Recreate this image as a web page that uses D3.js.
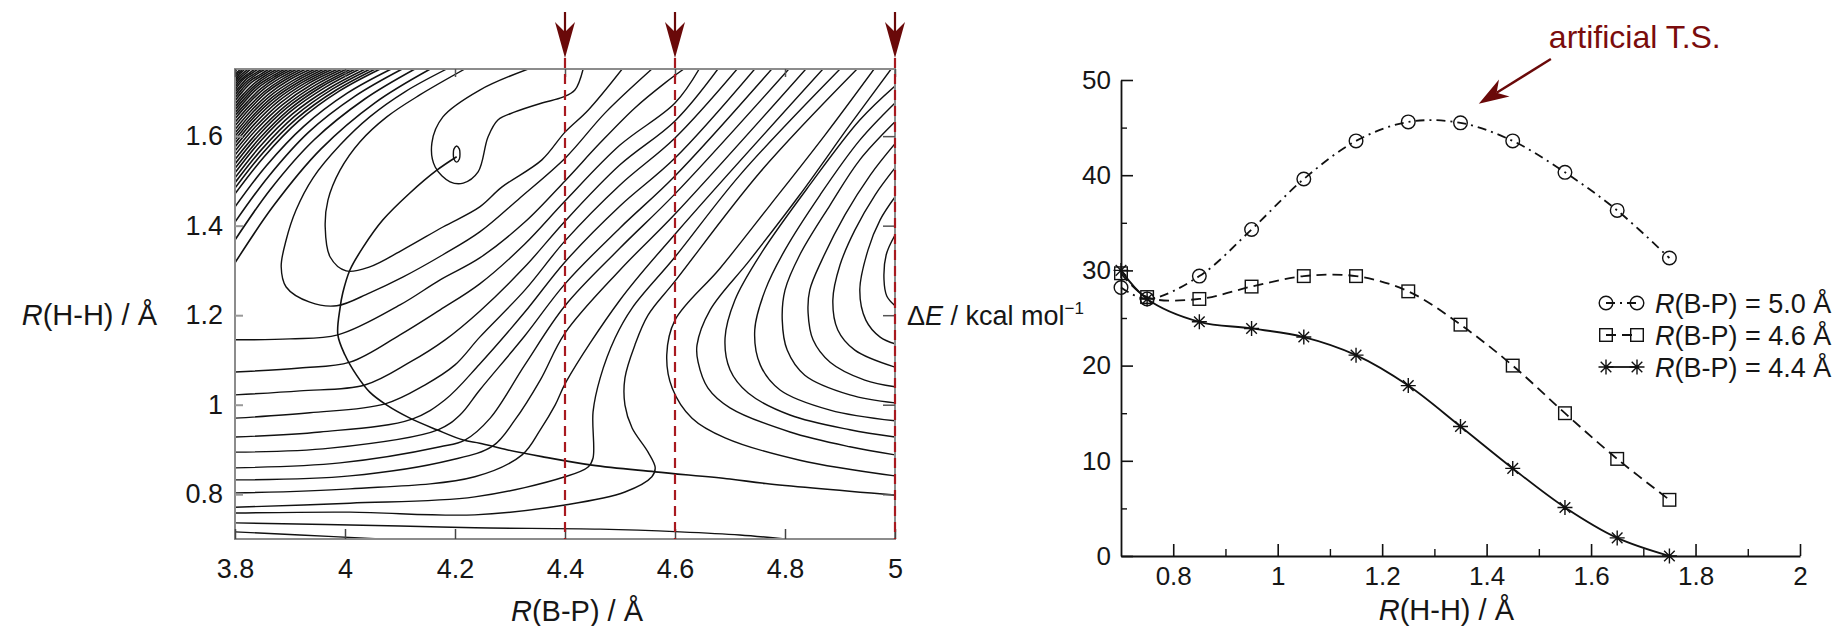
<!DOCTYPE html>
<html>
<head>
<meta charset="utf-8">
<script src="https://cdn.jsdelivr.net/npm/d3@7"></script>
<style>
  html, body { margin: 0; padding: 0; background: #fff; }
  svg { display: block; }
  text { font-family: "Liberation Sans", Arial, Helvetica, sans-serif; fill: #161616; }
</style>
</head>
<body>
<svg id="chart" width="1841" height="626"></svg>
<script>
// ---------------- potential energy surface (left panel) ----------------
const bpTicks = [3.8, 4.0, 4.2, 4.4, 4.6, 4.8, 5.0];
const hhTicks = [0.8, 1.0, 1.2, 1.4, 1.6];
const scanBP = [4.4, 4.6, 5.0];

// small closed contour around the minimum
const energyWell = [[4.203,1.578],[4.208,1.571],[4.209,1.56],[4.208,1.549],[4.203,1.542],[4.198,1.549],[4.197,1.56],[4.198,1.571]];

// repulsive wall in the upper-left corner
const cornerContours = [
  [[3.8,1.317],[3.871,1.446],[3.956,1.571],[4.055,1.675],[4.155,1.75]],
  [[3.8,1.368],[3.865,1.482],[3.944,1.592],[4.036,1.683],[4.127,1.75]],
  [[3.8,1.408],[3.861,1.51],[3.934,1.609],[4.019,1.69],[4.104,1.75]],
  [[3.8,1.442],[3.857,1.534],[3.925,1.622],[4.004,1.696],[4.084,1.75]],
  [[3.8,1.471],[3.853,1.554],[3.916,1.634],[3.99,1.701],[4.064,1.75]],
  [[3.8,1.484],[3.851,1.563],[3.912,1.639],[3.984,1.703],[4.055,1.75]],
  [[3.8,1.496],[3.849,1.571],[3.908,1.644],[3.977,1.705],[4.046,1.75]],
  [[3.8,1.507],[3.847,1.579],[3.904,1.649],[3.971,1.707],[4.037,1.75]],
  [[3.8,1.518],[3.845,1.587],[3.9,1.654],[3.964,1.709],[4.027,1.75]],
  [[3.8,1.528],[3.844,1.594],[3.897,1.658],[3.958,1.711],[4.019,1.75]],
  [[3.8,1.538],[3.842,1.601],[3.893,1.662],[3.952,1.712],[4.011,1.75]],
  [[3.8,1.548],[3.841,1.608],[3.89,1.666],[3.946,1.714],[4.003,1.75]],
  [[3.8,1.558],[3.839,1.615],[3.886,1.67],[3.94,1.716],[3.995,1.75]],
  [[3.8,1.567],[3.838,1.622],[3.882,1.674],[3.934,1.718],[3.987,1.75]],
  [[3.8,1.576],[3.836,1.628],[3.878,1.677],[3.928,1.719],[3.978,1.75]],
  [[3.8,1.584],[3.834,1.634],[3.875,1.681],[3.922,1.72],[3.97,1.75]],
  [[3.8,1.592],[3.832,1.639],[3.871,1.684],[3.916,1.721],[3.962,1.75]],
  [[3.8,1.6],[3.831,1.644],[3.868,1.687],[3.911,1.723],[3.954,1.75]],
  [[3.8,1.607],[3.829,1.649],[3.864,1.69],[3.905,1.724],[3.946,1.75]],
  [[3.8,1.615],[3.828,1.655],[3.861,1.694],[3.899,1.726],[3.938,1.75]],
  [[3.8,1.623],[3.826,1.66],[3.857,1.697],[3.893,1.727],[3.929,1.75]],
  [[3.8,1.631],[3.825,1.666],[3.854,1.7],[3.887,1.728],[3.921,1.75]],
  [[3.8,1.639],[3.823,1.671],[3.85,1.703],[3.881,1.729],[3.913,1.75]],
  [[3.8,1.646],[3.822,1.676],[3.847,1.706],[3.876,1.731],[3.906,1.75]],
  [[3.8,1.652],[3.82,1.681],[3.843,1.709],[3.871,1.732],[3.898,1.75]],
  [[3.8,1.659],[3.819,1.686],[3.84,1.712],[3.866,1.733],[3.891,1.75]],
  [[3.8,1.665],[3.817,1.69],[3.837,1.714],[3.86,1.734],[3.884,1.75]],
  [[3.8,1.672],[3.816,1.695],[3.834,1.717],[3.855,1.735],[3.877,1.75]],
  [[3.8,1.679],[3.814,1.7],[3.83,1.72],[3.85,1.736],[3.869,1.75]],
  [[3.8,1.686],[3.813,1.705],[3.827,1.723],[3.845,1.737],[3.862,1.75]],
  [[3.8,1.692],[3.811,1.709],[3.824,1.725],[3.839,1.738],[3.855,1.75]],
  [[3.8,1.698],[3.81,1.713],[3.821,1.728],[3.835,1.739],[3.849,1.75]],
  [[3.8,1.703],[3.808,1.717],[3.818,1.73],[3.83,1.74],[3.842,1.75]],
  [[3.8,1.709],[3.807,1.721],[3.816,1.732],[3.826,1.741],[3.836,1.75]],
  [[3.8,1.715],[3.806,1.725],[3.813,1.734],[3.821,1.742],[3.829,1.75]],
  [[3.8,1.721],[3.805,1.729],[3.811,1.737],[3.817,1.743],[3.824,1.75]],
  [[3.8,1.726],[3.804,1.732],[3.808,1.739],[3.813,1.744],[3.818,1.75]],
  [[3.8,1.731],[3.803,1.736],[3.806,1.741],[3.81,1.745],[3.814,1.75]],
  [[3.8,1.735],[3.802,1.739],[3.804,1.743],[3.807,1.746],[3.809,1.75]],
  [[3.8,1.742],[3.801,1.745],[3.802,1.747],[3.803,1.75]]
];

// loops around the H2-bound basin
const valleyContours = [
  [[4.333,1.75],[4.245,1.703],[4.178,1.643],[4.158,1.585],[4.164,1.531],[4.191,1.498],[4.215,1.495],[4.242,1.52],[4.26,1.598],[4.278,1.636],[4.309,1.654],[4.358,1.674],[4.396,1.687],[4.418,1.703],[4.433,1.75]],
  [[4.218,1.75],[4.136,1.692],[4.076,1.643],[4.027,1.587],[3.991,1.524],[3.969,1.457],[3.964,1.397],[3.973,1.33],[4.002,1.299],[4.045,1.308],[4.105,1.346],[4.178,1.397],[4.245,1.442],[4.285,1.486],[4.358,1.547],[4.4,1.609],[4.442,1.658],[4.504,1.75]],
  [[4.185,1.75],[4.109,1.699],[4.045,1.643],[3.991,1.58],[3.942,1.507],[3.911,1.435],[3.893,1.368],[3.884,1.308],[3.893,1.263],[3.936,1.229],[3.985,1.221],[4.045,1.25],[4.105,1.285],[4.178,1.335],[4.245,1.386],[4.318,1.462],[4.402,1.553],[4.473,1.652],[4.558,1.75]]
];

// contours running from the left edge across the path up to the top edge
const slopeContours = [
  [[3.8,1.145],[3.9,1.147],[3.987,1.156],[4.1,1.223],[4.173,1.279],[4.245,1.328],[4.327,1.408],[4.4,1.5],[4.464,1.585],[4.527,1.663],[4.582,1.719],[4.616,1.75]],
  [[3.8,1.073],[3.918,1.082],[4.009,1.095],[4.1,1.156],[4.173,1.212],[4.245,1.27],[4.327,1.359],[4.4,1.455],[4.5,1.58],[4.6,1.674],[4.644,1.75]],
  [[3.8,1.022],[3.918,1.031],[4.036,1.044],[4.118,1.095],[4.182,1.145],[4.245,1.209],[4.327,1.308],[4.4,1.41],[4.5,1.536],[4.6,1.634],[4.678,1.75]],
  [[3.8,0.97],[3.936,0.982],[4.073,1.002],[4.145,1.044],[4.2,1.089],[4.245,1.151],[4.327,1.256],[4.4,1.366],[4.5,1.491],[4.6,1.596],[4.713,1.75]],
  [[3.8,0.928],[3.955,0.939],[4.122,0.968],[4.182,1.011],[4.245,1.091],[4.327,1.207],[4.4,1.319],[4.5,1.444],[4.6,1.551],[4.745,1.75]],
  [[3.8,0.894],[3.973,0.903],[4.169,0.944],[4.209,0.977],[4.245,1.033],[4.327,1.154],[4.4,1.27],[4.5,1.395],[4.6,1.511],[4.776,1.75]],
  [[3.8,0.859],[3.991,0.87],[4.173,0.906],[4.218,0.921],[4.264,0.97],[4.327,1.089],[4.4,1.221],[4.5,1.35],[4.6,1.471],[4.807,1.75]],
  [[3.8,0.832],[4.009,0.841],[4.191,0.876],[4.269,0.908],[4.309,0.966],[4.355,1.055],[4.4,1.16],[4.5,1.301],[4.6,1.426],[4.838,1.75]],
  [[3.8,0.803],[4.009,0.812],[4.236,0.839],[4.322,0.888],[4.355,0.944],[4.382,0.999],[4.402,1.051],[4.5,1.234],[4.6,1.381],[4.869,1.75]],
  [[3.8,0.771],[4.009,0.78],[4.236,0.794],[4.4,0.839],[4.442,0.861],[4.451,0.881],[4.451,0.984],[4.464,1.06],[4.491,1.149],[4.522,1.216],[4.6,1.33],[4.718,1.513],[4.9,1.75]],
  [[3.8,0.758],[4.009,0.76],[4.236,0.754],[4.4,0.776],[4.509,0.805],[4.558,0.839],[4.564,0.859],[4.551,0.894],[4.522,0.948],[4.509,0.999],[4.509,1.06],[4.527,1.133],[4.551,1.2],[4.6,1.276],[4.755,1.52],[4.931,1.75]]
];

// nearly flat contours along the bottom edge
const floorContours = [
  [[3.8,0.736],[4.1,0.729],[4.236,0.725],[4.464,0.722],[4.609,0.716],[4.718,0.709],[4.8,0.7]],
  [[3.8,0.716],[3.918,0.709],[4.064,0.7]]
];

// C-shaped contours around the hill on the right edge
const ridgeContours = [
  [[4.962,1.75],[4.873,1.603],[4.773,1.446],[4.682,1.305],[4.6,1.189],[4.585,1.111],[4.595,1.037],[4.631,0.97],[4.691,0.926],[4.827,0.876],[5.0,0.841]],
  [[4.993,1.75],[4.918,1.625],[4.827,1.469],[4.736,1.323],[4.664,1.212],[4.64,1.133],[4.642,1.095],[4.66,1.037],[4.7,0.993],[4.809,0.939],[4.918,0.906],[5.0,0.888]],
  [[5.0,1.712],[4.936,1.636],[4.845,1.491],[4.755,1.335],[4.709,1.234],[4.691,1.149],[4.7,1.078],[4.733,1.026],[4.809,0.977],[4.918,0.944],[5.0,0.928]],
  [[5.0,1.674],[4.936,1.591],[4.864,1.469],[4.8,1.346],[4.764,1.256],[4.745,1.167],[4.755,1.089],[4.791,1.033],[4.882,0.988],[5.0,0.964]],
  [[5.0,1.632],[4.936,1.547],[4.882,1.446],[4.827,1.335],[4.8,1.256],[4.795,1.189],[4.804,1.122],[4.836,1.066],[4.918,1.022],[5.0,1.004]],
  [[5.0,1.583],[4.955,1.513],[4.909,1.424],[4.867,1.323],[4.845,1.256],[4.842,1.205],[4.851,1.145],[4.882,1.095],[4.945,1.055],[5.0,1.04]],
  [[5.0,1.529],[4.964,1.469],[4.927,1.39],[4.9,1.312],[4.887,1.234],[4.896,1.167],[4.927,1.122],[5.0,1.084]],
  [[5.0,1.464],[4.973,1.413],[4.951,1.346],[4.936,1.256],[4.947,1.189],[4.973,1.151],[5.0,1.136]],
  [[5.0,1.379],[4.984,1.335],[4.98,1.279],[4.985,1.243],[5.0,1.221]]
];

// minimum energy path
const reactionPath = [[4.203,1.554],[4.167,1.524],[4.118,1.473],[4.069,1.413],[4.033,1.352],[4.009,1.301],[3.996,1.25],[3.991,1.216],[3.987,1.156],[4.0,1.111],[4.021,1.066],[4.045,1.028],[4.076,0.999],[4.118,0.97],[4.167,0.944],[4.215,0.921],[4.245,0.914],[4.296,0.899],[4.358,0.884],[4.449,0.865],[4.564,0.85],[4.7,0.834],[4.765,0.824],[5.0,0.798]];

// ---------------- energy profiles (right panel) ----------------
const rHH = [0.7, 0.75, 0.85, 0.95, 1.05, 1.15, 1.25, 1.35, 1.45, 1.55, 1.65, 1.75];
const dE50 = [28.2, 27.0, 29.4, 34.3, 39.6, 43.6, 45.6, 45.5, 43.6, 40.3, 36.3, 31.3];
const dE46 = [29.7, 27.2, 27.0, 28.3, 29.4, 29.4, 27.8, 24.3, 20.0, 15.0, 10.2, 5.9];
const dE44 = [30.0, 27.0, 24.6, 23.9, 23.0, 21.1, 17.9, 13.6, 9.2, 5.1, 1.9, 0.0];
const eTicks = [0, 10, 20, 30, 40, 50];
const eMinor = [5, 15, 25, 35, 45];
const rTicks = [0.8, 1.0, 1.2, 1.4, 1.6, 1.8, 2.0];
const rMinor = [0.9, 1.1, 1.3, 1.5, 1.7, 1.9];
const seriesNames = ["5.0", "4.6", "4.4"];
const tsArrow = { tail: [1.523, 52.2], tip: [1.385, 47.5] };

// ---------------- drawing ----------------
const svg = d3.select("#chart");
const FONT = '"Liberation Sans", Arial, Helvetica, sans-serif';

const x = d3.scaleLinear().domain([3.8, 5.0]).range([235, 895]);
const y = d3.scaleLinear().domain([0.7, 1.75]).range([539, 69]);

svg.append("clipPath").attr("id", "pes-clip")
  .append("rect")
  .attr("x", x(3.8)).attr("y", y(1.75))
  .attr("width", x(5.0) - x(3.8)).attr("height", y(0.7) - y(1.75));

const pes = svg.append("g");
const contour = d3.line().x(d => x(d[0])).y(d => y(d[1])).curve(d3.curveCatmullRom.alpha(0.5));
const contourClosed = d3.line().x(d => x(d[0])).y(d => y(d[1])).curve(d3.curveCatmullRomClosed.alpha(0.5));

const cg = pes.append("g").attr("clip-path", "url(#pes-clip)")
  .attr("fill", "none").attr("stroke", "#111").attr("stroke-width", 1.4).attr("stroke-linejoin", "round");

cg.selectAll("path.corner").data(cornerContours).join("path").attr("class", "corner")
  .attr("d", contour).attr("stroke-width", 1.6);
cg.selectAll("path.valley").data(valleyContours).join("path").attr("class", "valley").attr("d", contour);
cg.selectAll("path.slope").data(slopeContours).join("path").attr("class", "slope").attr("d", contour);
cg.selectAll("path.floor").data(floorContours).join("path").attr("class", "floor").attr("d", contour);
cg.selectAll("path.ridge").data(ridgeContours).join("path").attr("class", "ridge").attr("d", contour);
cg.append("path").attr("d", contourClosed(energyWell));
cg.append("path").attr("d", contour(reactionPath)).attr("stroke-width", 1.6);

// frame and inward ticks
const frameColor = "#8c8c8c";
pes.append("rect")
  .attr("x", x(3.8)).attr("y", y(1.75))
  .attr("width", x(5.0) - x(3.8)).attr("height", y(0.7) - y(1.75))
  .attr("fill", "none").attr("stroke", frameColor).attr("stroke-width", 2);

function styleAxis(g, size) {
  g.attr("font-family", FONT).attr("font-size", size);
  g.select(".domain").remove();
  g.selectAll("text").attr("fill", "#1a1a1a");
}

pes.append("g").attr("transform", `translate(0,${y(0.7)})`)
  .call(d3.axisBottom(x).tickValues(bpTicks).tickSize(-10).tickPadding(20).tickFormat(d => String(d)))
  .call(g => { styleAxis(g, 27); g.selectAll("line").attr("stroke", "#444").attr("stroke-width", 1.5); });

pes.append("g").attr("transform", `translate(0,${y(1.75)})`)
  .call(d3.axisTop(x).tickValues(bpTicks).tickSize(-8).tickFormat(() => ""))
  .call(g => { styleAxis(g, 10); g.selectAll("line").attr("stroke", "#555").attr("stroke-width", 1.5); });

pes.append("g").attr("transform", `translate(${x(3.8)},0)`)
  .call(d3.axisLeft(y).tickValues(hhTicks).tickSize(-8).tickPadding(12).tickFormat(d => String(d)))
  .call(g => { styleAxis(g, 27); g.selectAll("line").attr("stroke", "#999").attr("stroke-width", 2); });

pes.append("g").attr("transform", `translate(${x(5.0)},0)`)
  .call(d3.axisRight(y).tickValues(hhTicks).tickSize(-12).tickFormat(() => ""))
  .call(g => { styleAxis(g, 10); g.selectAll("line").attr("stroke", "#555").attr("stroke-width", 1.5); });

// axis titles
const bpTitle = svg.append("text").attr("x", x(4.4) + 12).attr("y", 621)
  .attr("text-anchor", "middle").attr("font-size", 29);
bpTitle.append("tspan").attr("font-style", "italic").text("R");
bpTitle.append("tspan").text("(B-P) / Å");

const hhTitle = svg.append("text").attr("x", 157).attr("y", y(1.2) + 10)
  .attr("text-anchor", "end").attr("font-size", 29);
hhTitle.append("tspan").attr("font-style", "italic").text("R");
hhTitle.append("tspan").text("(H-H) / Å");

// scanned slices: dashed guides and arrows
const guideRed = "#a8191f";
const arrowRed = "#6a0909";
const scans = svg.append("g");
scans.selectAll("line.guide").data(scanBP).join("line").attr("class", "guide")
  .attr("x1", d => x(d)).attr("x2", d => x(d))
  .attr("y1", 58).attr("y2", y(0.7))
  .attr("stroke", guideRed).attr("stroke-width", 2.2).attr("stroke-dasharray", "10,6");
scans.selectAll("line.shaft").data(scanBP).join("line").attr("class", "shaft")
  .attr("x1", d => x(d)).attr("x2", d => x(d))
  .attr("y1", 12).attr("y2", 36)
  .attr("stroke", arrowRed).attr("stroke-width", 2.2);
scans.selectAll("path.head").data(scanBP).join("path").attr("class", "head")
  .attr("d", d => { const cx = x(d); return `M${cx},58 L${cx - 10},22 L${cx},32 L${cx + 10},22 Z`; })
  .attr("fill", arrowRed);

// ---------------- right panel ----------------
const xr = d3.scaleLinear().domain([0.7, 2.0]).range([1121, 1800]);
const yr = d3.scaleLinear().domain([0, 50]).range([556, 80]);
const prof = svg.append("g");

prof.append("g").attr("transform", `translate(0,${yr(0)})`)
  .call(d3.axisBottom(xr).tickValues(rTicks).tickSize(-12).tickSizeOuter(0).tickPadding(11).tickFormat(d => String(d)))
  .call(g => { g.attr("font-family", FONT).attr("font-size", 26);
    g.select(".domain").attr("stroke", "#111").attr("stroke-width", 1.8);
    g.selectAll("line").attr("stroke", "#111").attr("stroke-width", 1.6); });
prof.append("g").attr("transform", `translate(0,${yr(0)})`)
  .call(d3.axisBottom(xr).tickValues(rMinor).tickSize(-7).tickSizeOuter(0).tickFormat(() => ""))
  .call(g => { g.select(".domain").remove(); g.selectAll("line").attr("stroke", "#111").attr("stroke-width", 1.4); });

prof.append("g").attr("transform", `translate(${xr(0.7)},0)`)
  .call(d3.axisLeft(yr).tickValues(eTicks).tickSize(-12).tickSizeOuter(0).tickPadding(10).tickFormat(d => String(d)))
  .call(g => { g.attr("font-family", FONT).attr("font-size", 26);
    g.select(".domain").attr("stroke", "#111").attr("stroke-width", 1.8);
    g.selectAll("line").attr("stroke", "#111").attr("stroke-width", 1.6); });
prof.append("g").attr("transform", `translate(${xr(0.7)},0)`)
  .call(d3.axisLeft(yr).tickValues(eMinor).tickSize(-6).tickSizeOuter(0).tickFormat(() => ""))
  .call(g => { g.select(".domain").remove(); g.selectAll("line").attr("stroke", "#111").attr("stroke-width", 1.4); });

// titles
const rxTitle = svg.append("text").attr("x", xr(1.3) + 12).attr("y", 620)
  .attr("text-anchor", "middle").attr("font-size", 29);
rxTitle.append("tspan").attr("font-style", "italic").text("R");
rxTitle.append("tspan").text("(H-H) / Å");

const eTitle = svg.append("text").attr("x", 907).attr("y", 325).attr("font-size", 27);
eTitle.append("tspan").text("Δ");
eTitle.append("tspan").attr("font-style", "italic").text("E");
eTitle.append("tspan").text(" / kcal mol");
eTitle.append("tspan").attr("font-size", 17).attr("dy", -11).text("−1");

// series
const series = [
  { name: seriesNames[0], values: dE50, dash: "9,5,2,5", marker: "circle" },
  { name: seriesNames[1], values: dE46, dash: "10,6", marker: "square" },
  { name: seriesNames[2], values: dE44, dash: null, marker: "star" }
];
const profLine = d3.line().x(d => xr(d[0])).y(d => yr(d[1])).curve(d3.curveCatmullRom.alpha(0.5));

function drawMarker(sel, type) {
  if (type === "circle") {
    sel.append("circle").attr("r", 6.8);
  } else if (type === "square") {
    sel.append("rect").attr("x", -6.3).attr("y", -6.3).attr("width", 12.6).attr("height", 12.6);
  } else {
    sel.append("path").attr("d", "M-7.5,0H7.5M0,-7.5V7.5M-5.3,-5.3L5.3,5.3M-5.3,5.3L5.3,-5.3");
  }
}

series.forEach(s => {
  const pts = rHH.map((h, i) => [h, s.values[i]]);
  prof.append("path").attr("d", profLine(pts))
    .attr("fill", "none").attr("stroke", "#111").attr("stroke-width", 1.8)
    .attr("stroke-dasharray", s.dash);
  const m = prof.append("g").attr("fill", "none").attr("stroke", "#111").attr("stroke-width", 1.4);
  pts.forEach(p => {
    const g = m.append("g").attr("transform", `translate(${xr(p[0])},${yr(p[1])})`);
    drawMarker(g, s.marker);
  });
});

// legend
const legend = svg.append("g");
series.forEach((s, i) => {
  const cy = 303 + i * 32;
  const row = legend.append("g");
  row.append("line").attr("x1", 1606).attr("x2", 1637).attr("y1", cy).attr("y2", cy)
    .attr("stroke", "#111").attr("stroke-width", 1.8).attr("stroke-dasharray", s.dash);
  [1606, 1637].forEach(px => {
    const g = row.append("g").attr("transform", `translate(${px},${cy})`)
      .attr("fill", "none").attr("stroke", "#111").attr("stroke-width", 1.4);
    drawMarker(g, s.marker);
  });
  const t = row.append("text").attr("x", 1655).attr("y", cy + 10).attr("font-size", 27);
  t.append("tspan").attr("font-style", "italic").text("R");
  t.append("tspan").text(`(B-P) = ${s.name} Å`);
});

// transition-state annotation
const tail = [xr(tsArrow.tail[0]), yr(tsArrow.tail[1])];
const tip = [xr(tsArrow.tip[0]), yr(tsArrow.tip[1])];
const dx = tip[0] - tail[0], dy = tip[1] - tail[1];
const len = Math.hypot(dx, dy), ux = dx / len, uy = dy / len, nx = -uy, ny = ux;
const headLen = 30, headHalf = 10, notch = 21;
const base = [tip[0] - ux * headLen, tip[1] - uy * headLen];
const nt = [tip[0] - ux * notch, tip[1] - uy * notch];
svg.append("line").attr("x1", tail[0]).attr("y1", tail[1]).attr("x2", nt[0]).attr("y2", nt[1])
  .attr("stroke", arrowRed).attr("stroke-width", 2.4);
svg.append("path")
  .attr("d", `M${tip[0]},${tip[1]} L${base[0] + nx * headHalf},${base[1] + ny * headHalf} L${nt[0]},${nt[1]} L${base[0] - nx * headHalf},${base[1] - ny * headHalf} Z`)
  .attr("fill", arrowRed);
svg.append("text").attr("x", tail[0] - 2).attr("y", 48).attr("font-size", 32)
  .style("fill", "#7a0c0c").text("artificial T.S.");
</script>
</body>
</html>
